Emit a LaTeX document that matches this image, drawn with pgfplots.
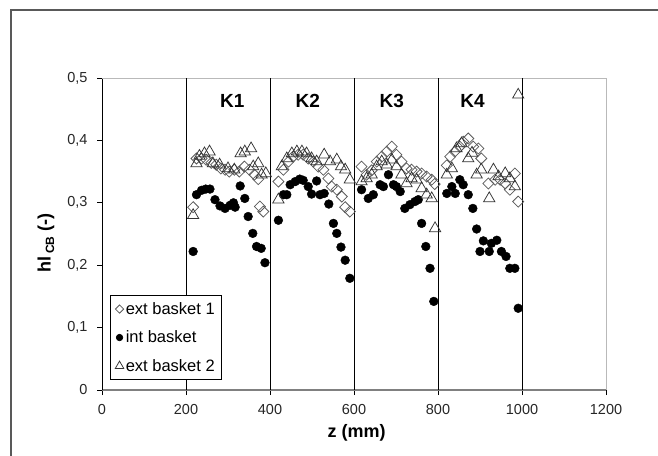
\documentclass[border=0pt]{standalone}
\usepackage{fontspec}
\setmainfont{Liberation Sans}
\usepackage{pgfplots}
\pgfplotsset{compat=1.18}

\pgfplotstableread{
z y
217 0.293
225 0.371
237 0.371
248 0.369
260 0.364
272 0.361
283 0.355
293 0.353
303 0.350
315 0.353
327 0.350
339 0.358
351 0.353
363 0.345
372 0.338
376 0.294
384 0.286
420 0.334
432 0.353
444 0.366
455 0.374
467 0.377
479 0.377
491 0.371
503 0.366
515 0.358
527 0.353
539 0.339
547 0.326
559 0.321
571 0.310
579 0.293
590 0.286
618 0.358
630 0.345
642 0.352
654 0.366
666 0.374
678 0.382
690 0.390
701 0.377
713 0.366
725 0.355
737 0.353
749 0.350
761 0.347
773 0.342
785 0.337
792 0.330
821 0.360
829 0.374
840 0.382
852 0.390
860 0.398
872 0.403
884 0.390
896 0.387
903 0.371
920 0.331
936 0.337
948 0.337
960 0.331
971 0.321
983 0.347
991 0.302
}\extone

\pgfplotstableread{
z y
217 0.222
225 0.313
237 0.320
247 0.322
257 0.322
269 0.305
281 0.295
293 0.291
305 0.296
313 0.300
317 0.293
329 0.327
340 0.307
348 0.278
359 0.251
368 0.230
379 0.227
388 0.204
420 0.272
432 0.313
440 0.313
448 0.329
460 0.334
471 0.338
479 0.336
491 0.326
499 0.314
511 0.335
519 0.313
529 0.315
540 0.298
551 0.267
559 0.251
569 0.229
579 0.208
590 0.179
618 0.321
634 0.307
646 0.313
662 0.329
670 0.326
682 0.345
694 0.329
701 0.326
710 0.318
721 0.291
733 0.297
745 0.302
753 0.305
761 0.267
771 0.230
781 0.195
790 0.142
821 0.315
833 0.326
841 0.315
852 0.337
860 0.329
872 0.313
883 0.291
892 0.258
900 0.222
908 0.239
922 0.222
927 0.235
940 0.240
951 0.222
962 0.214
971 0.195
983 0.195
991 0.131
}\intb

\pgfplotstableread{
z y
217 0.280
225 0.363
232 0.375
244 0.379
256 0.382
264 0.363
280 0.361
300 0.355
315 0.353
330 0.379
340 0.382
355 0.387
360 0.358
372 0.363
380 0.345
390 0.347
420 0.305
428 0.358
440 0.371
452 0.379
464 0.382
476 0.382
487 0.379
499 0.371
511 0.366
529 0.377
543 0.366
559 0.369
569 0.358
579 0.353
590 0.337
618 0.334
630 0.339
642 0.345
654 0.358
666 0.366
678 0.361
690 0.369
701 0.358
713 0.345
725 0.331
737 0.339
749 0.337
761 0.323
773 0.313
785 0.307
793 0.259
821 0.345
833 0.355
844 0.387
856 0.395
872 0.371
881 0.380
892 0.345
903 0.353
922 0.307
932 0.353
944 0.342
960 0.347
971 0.339
983 0.326
991 0.473
}\exttwo

\begin{document}
\begin{tikzpicture}[x=1pt,y=1pt]
\begin{axis}[
  at={(0pt,0pt)}, anchor=south west,
  scale only axis, width=504pt, height=312pt,
  xmin=0, xmax=1200, ymin=0, ymax=0.5,
  axis x line*=bottom, axis y line*=left,
  x axis line style={draw=gray, line width=1.4pt, -},
  y axis line style={draw=black, line width=0.9pt, -},
  xtick={0,200,400,600,800,1000,1200},
  ytick={0,0.1,0.2,0.3,0.4,0.5},
  tick align=outside, major tick length=5pt,
  tick style={black, line width=0.8pt},
  /pgf/number format/assume math mode=true,
  /pgf/number format/use comma,
  /pgf/number format/1000 sep={},
  ticklabel style={font=\fontsize{14.5}{16}\selectfont, text=black!85},
  xticklabel style={yshift=-6pt},
  yticklabel style={xshift=-6pt},
  xlabel={z (mm)},
  xlabel style={at={(rel axis cs:0.505,-0.138)}, anchor=center, font=\bfseries\fontsize{18}{20}\selectfont},
  ylabel={\textbf{hl\,\raisebox{-0.35ex}{\fontsize{12}{12}\selectfont\bfseries CB} (-)}},
  ylabel style={at={(rel axis cs:-0.111,0.471)}, anchor=center, font=\bfseries\fontsize{18}{20}\selectfont},
  legend style={at={(rel axis cs:0.0159,0.032)}, anchor=south west, draw=black, line width=0.6pt,
    font=\fontsize{16.5}{18}\selectfont, row sep=11pt, inner xsep=5pt, inner ysep=5pt},
  legend cell align=left,
  legend image code/.code={\draw[#1, every mark/.append style={scale=0.75}] plot coordinates {(0pt,0pt)};},
  clip=false,
]
\draw[gray!55, line width=0.9pt] (rel axis cs:0,1) -- (rel axis cs:1,1) -- (rel axis cs:1,0);
\addplot[black, line width=0.8pt, forget plot] coordinates {(200,0) (200,0.5)};
\addplot[black, line width=0.8pt, forget plot] coordinates {(400,0) (400,0.5)};
\addplot[black, line width=0.8pt, forget plot] coordinates {(600,0) (600,0.5)};
\addplot[black, line width=0.8pt, forget plot] coordinates {(800,0) (800,0.5)};
\addplot[black, line width=0.8pt, forget plot] coordinates {(1000,0) (1000,0.5)};

\addplot[only marks, mark=square, mark size=3.9pt, mark options={rotate=45, draw=black!65, line width=0.75pt, fill=none}] table[x=z,y=y] {\extone};
\addlegendentry{ext basket 1}
\addplot[only marks, mark=*, mark size=4.4pt, mark options={draw=black, fill=black}] table[x=z,y=y] {\intb};
\addlegendentry{int basket}
\addplot[only marks, mark=triangle, mark size=6.5pt, mark options={draw=black!80, line width=0.75pt, fill=none}] table[x=z,y=y] {\exttwo};
\addlegendentry{ext basket 2}

\node[font=\bfseries\fontsize{19}{20}\selectfont] at (axis cs:310,0.463) {K1};
\node[font=\bfseries\fontsize{19}{20}\selectfont] at (axis cs:490,0.463) {K2};
\node[font=\bfseries\fontsize{19}{20}\selectfont] at (axis cs:690,0.463) {K3};
\node[font=\bfseries\fontsize{19}{20}\selectfont] at (axis cs:882,0.463) {K4};
\end{axis}
\draw[gray!70!black, line width=1.2pt] (-91,-70) -- (-91,380) -- (560,380);
\pgfresetboundingbox
\path (-102,-65) rectangle (556,390);
\end{tikzpicture}
\end{document}
